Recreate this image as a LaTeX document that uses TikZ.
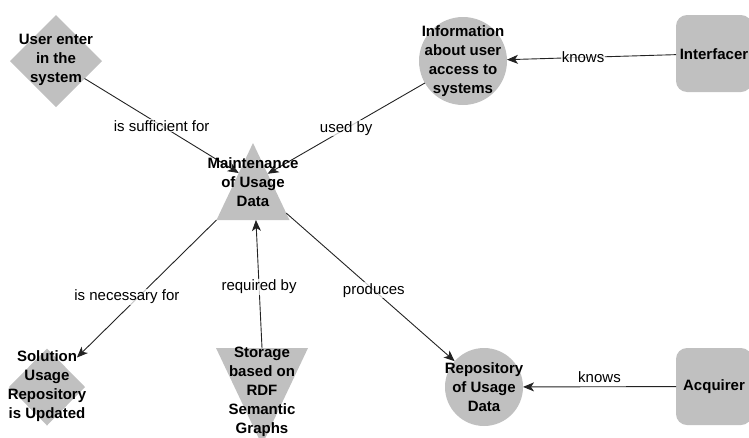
\documentclass[tikz,border=0pt]{standalone}
\usepackage{fontspec}
\setmainfont{Liberation Sans}
\usetikzlibrary{positioning,calc}
\usetikzlibrary{arrows.meta,shapes.geometric}
\definecolor{ConceptGray}{RGB}{192,192,192}
\definecolor{LinkGray}{RGB}{35,35,35}
\tikzset{
  concept/.style={fill=ConceptGray,draw=none,inner sep=0pt,outer sep=0pt},
  dmd/.style={concept,diamond},
  blob/.style={concept,circle},
  tri/.style={concept,isosceles triangle,isosceles triangle stretches},
  actor/.style={concept,rectangle,rounded corners=11pt,minimum width=76pt,minimum height=77pt},
  ctext/.style={font=\fontsize{15}{19}\selectfont\bfseries,align=center,inner sep=0pt},
}
\tikzset{link/.style={draw=LinkGray,line width=0.9pt,-{Stealth[length=11pt,width=9pt,inset=3pt]}}, lab/.style={font=\fontsize{15}{18}\selectfont,fill=white,fill opacity=0.75,text opacity=1,inner sep=1pt}}

\begin{document}
\begin{tikzpicture}[x=1pt,y=-1pt]
\useasboundingbox (0,0) rectangle (749,437);
\node[dmd,minimum width=92pt,minimum height=92pt] (user) at (56,61) {};
\node[blob,minimum size=88pt] (info) at (463,61) {};
\node[actor] (inter) at (714,53.5) {};
\node[tri,shape border rotate=90,minimum width=73pt,minimum height=77pt,anchor=apex] (main) at (253,143) {};
\node[dmd,minimum width=76pt,minimum height=77pt] (sol) at (47,387) {};
\node[tri,shape border rotate=270,minimum width=92pt,minimum height=97pt,anchor=apex] (stor) at (262,445) {};
\node[blob,minimum size=78pt] (repo) at (484,387) {};
\node[actor] (acq) at (714,386.5) {};
\draw[link] (user) -- node[lab]{is sufficient for} ($(main.apex)!0.39!(main.left corner)$);
\draw[link] (info) -- node[lab]{used by} ($(main.apex)!0.4!(main.right corner)$);
\draw[link] (main.left corner) -- node[lab,pos=.52,xshift=-17pt,yshift=-5pt]{is necessary for} ($(sol.center)!42pt!(main.left corner)$);
\draw[link] ($(stor.left corner)!0.5!(stor.right corner)$) -- node[lab,pos=.48]{required by} ($(main.left corner)!0.54!(main.right corner)$);
\draw[link] ($(main.apex)!0.91!(main.right corner)$) -- node[lab,pos=.52]{produces} (repo);
\draw[link] (inter) -- node[lab,pos=.55]{knows} (info);
\draw[link] (acq) -- node[lab,above=3pt]{knows} (repo);
\node[ctext] (usert) at (56,60) {User enter\\in the\\system};
\node[ctext] (infot) at (463,61) {Information\\about user\\access to\\systems};
\node[ctext] (intert) at (714,54) {Interfacer};
\node[ctext] (maint) at (253,182) {Maintenance\\of Usage\\Data};
\node[ctext] (solt) at (47,386) {Solution\\Usage\\Repository\\is Updated};
\node[ctext] (stort) at (262,392) {Storage\\based on\\RDF\\Semantic\\Graphs};
\node[ctext] (repot) at (484,387) {Repository\\of Usage\\Data};
\node[ctext] (acqt) at (714,387) {Acquirer};
\end{tikzpicture}
\end{document}
